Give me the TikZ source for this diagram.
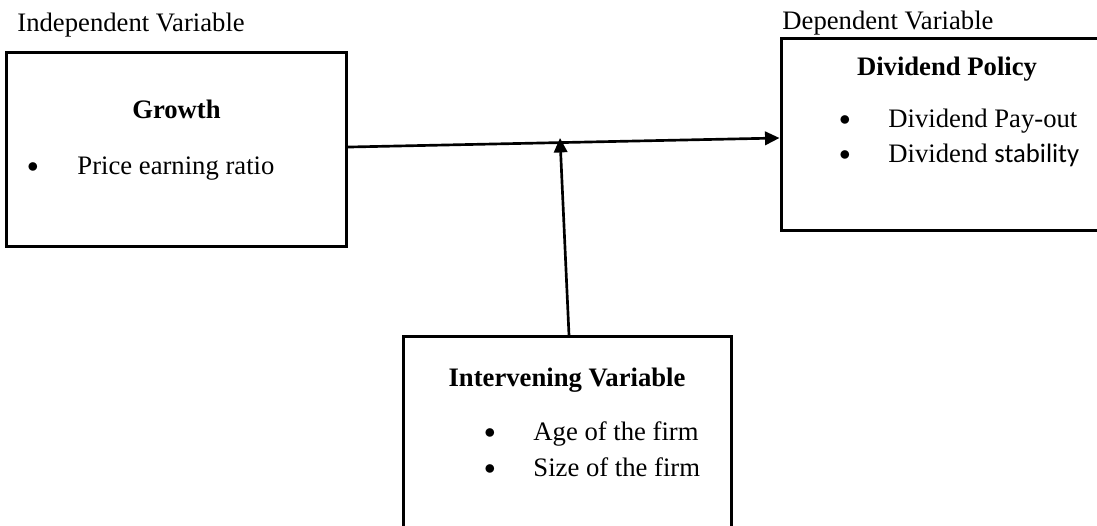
\documentclass[tikz,border=0pt]{standalone}
\usepackage{fontspec}
\setmainfont{Liberation Serif}
\newfontfamily\calib{Carlito}
\usetikzlibrary{arrows.meta,positioning}

\begin{document}
\begin{tikzpicture}[x=0.45pt, y=-0.45pt,
    varbox/.style={draw, line width=1.35pt, inner sep=0pt},
    ttl/.style={font=\fontsize{12}{14}\selectfont\bfseries, anchor=base, inner sep=0pt},
    txt/.style={font=\fontsize{12}{14}\selectfont, anchor=base west, inner sep=0pt},
    bul/.style={font=\fontsize{10}{10}\selectfont, anchor=base, inner sep=0pt},
    arr/.style={-{Triangle[length=6.5pt, width=6pt]}, line width=1.2pt}
]
\useasboundingbox (0,0) rectangle (1097,526);
\clip (0,0) rectangle (1097,526);

% boxes
\node[varbox, minimum width=152.6pt, minimum height=86.9pt] (growth) at (176.5,149.5) {};
\node[varbox, minimum width=150.3pt, minimum height=86.4pt] (policy) at (948,135) {};
\node[varbox, minimum width=147.6pt, minimum height=103.5pt] (interv) at (567,452) {};

% headings above the boxes
\node[txt] (indep) at (17,32) {Independent Variable};
\node[txt] (dep) at (782,30) {Dependent Variable};

% growth
\node[ttl] (gttl) at (176.5,119) {Growth};
\node[bul] (gb1) at (33,175) {\raisebox{1.1pt}{$\bullet$}};
\node[txt] (gt1) at (77,175) {Price earning ratio};

% dividend policy
\node[ttl] (pttl) at (947,76) {Dividend Policy};
\node[bul] (pb1) at (845,128) {\raisebox{1.1pt}{$\bullet$}};
\node[txt] (pt1) at (888,128) {Dividend Pay-out};
\node[bul] (pb2) at (845,163) {\raisebox{1.1pt}{$\bullet$}};
\node[txt] (pt2) at (888,163) {Dividend {\calib stability}};

% intervening variable
\node[ttl] (ittl) at (567,387) {Intervening Variable};
\node[bul] (ib1) at (490,441) {\raisebox{1.1pt}{$\bullet$}};
\node[txt] (it1) at (533,441) {Age of the firm};
\node[bul] (ib2) at (490,477) {\raisebox{1.1pt}{$\bullet$}};
\node[txt] (it2) at (533,477) {Size of the firm};

% connectors
\coordinate (join) at (560,138);
\draw[arr] ([yshift=1.1pt]growth.east) -- ([yshift=-1.35pt]policy.west);
\draw[arr] ([xshift=0.9pt]interv.north) -- (join);
\end{tikzpicture}
\end{document}
